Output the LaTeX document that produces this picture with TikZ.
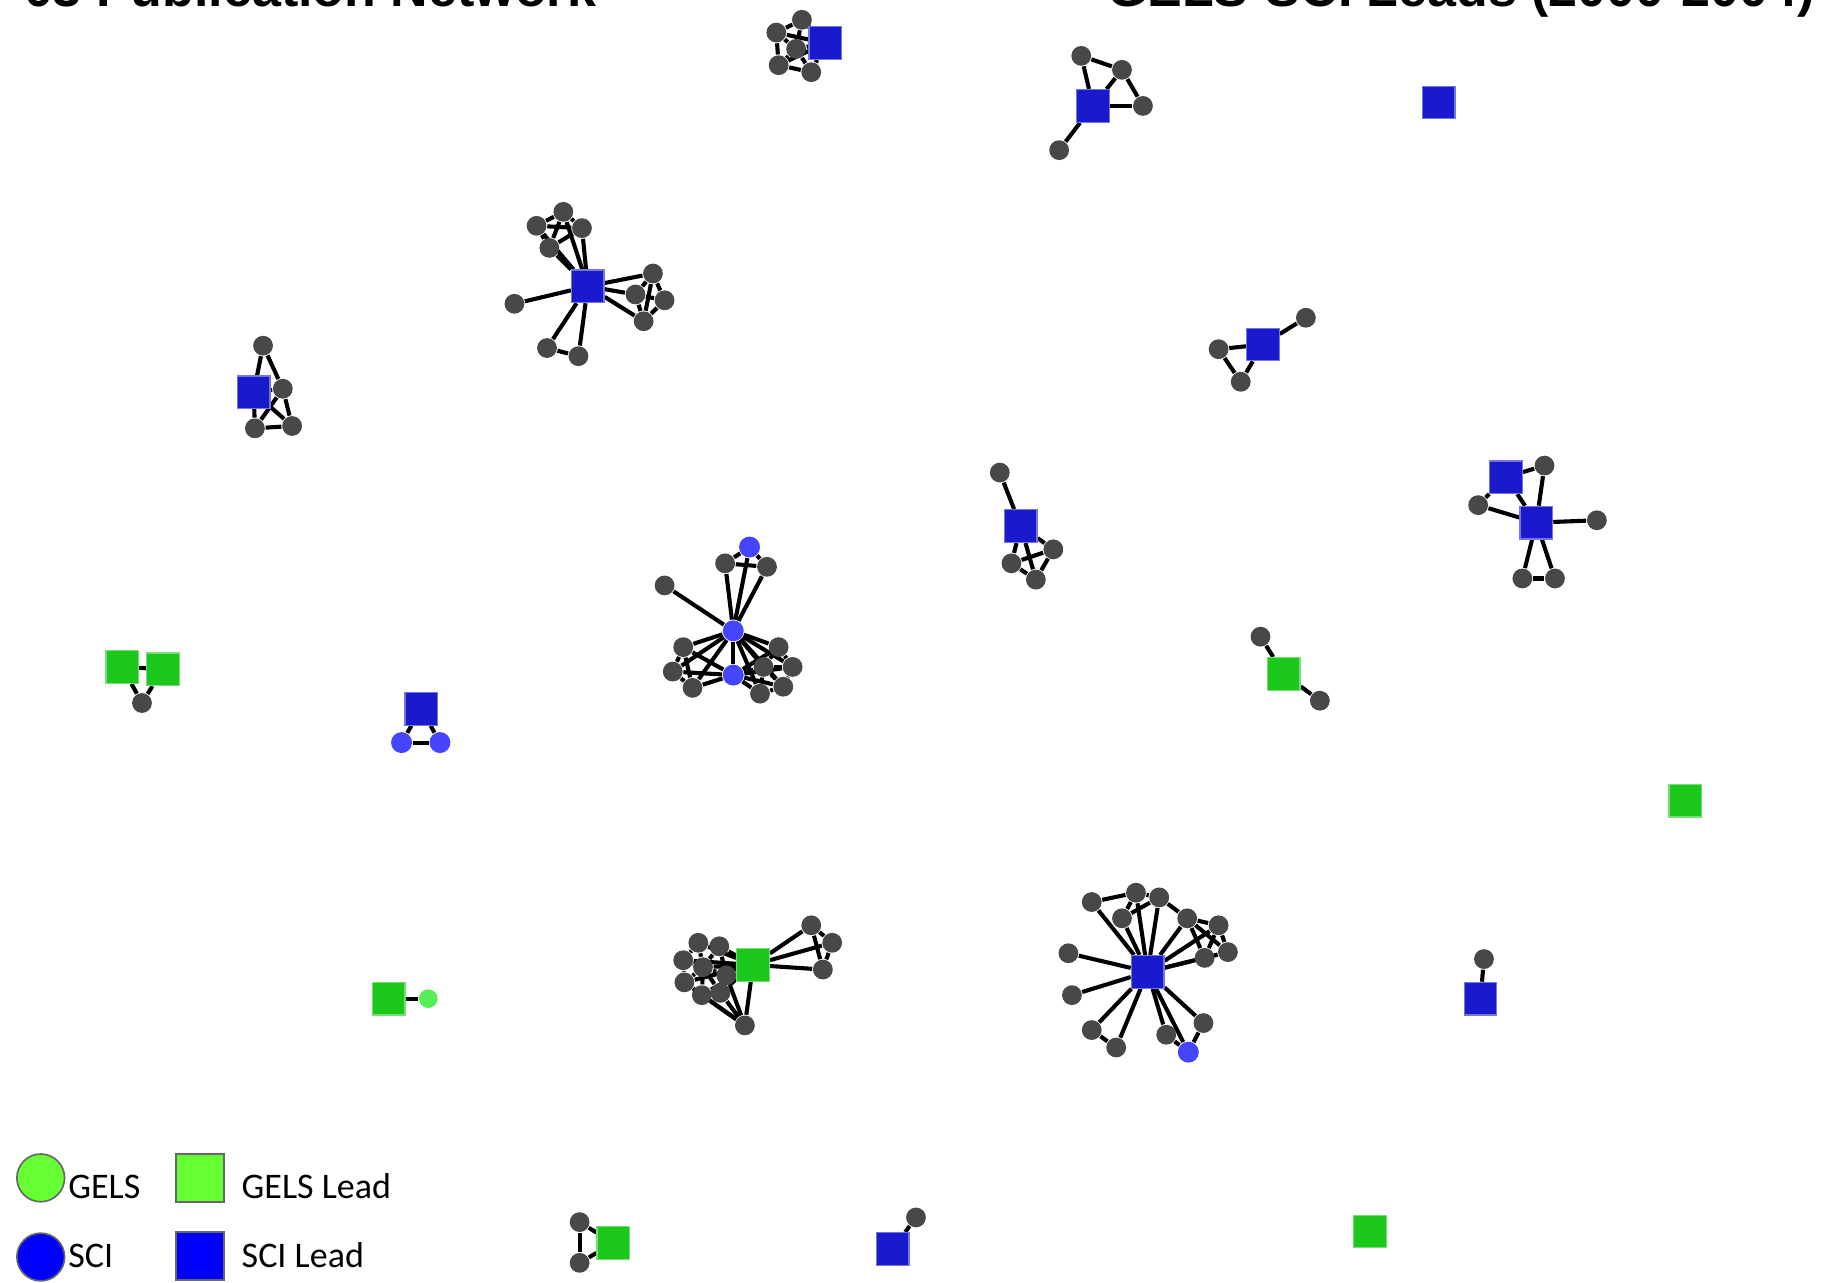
\documentclass[tikz,border=0pt]{standalone}
\usepackage{fontspec}
\usepackage{tikz}
\usetikzlibrary{backgrounds}
\newfontfamily\titlefont{Liberation Sans}
\newfontfamily\legendfont{Carlito}
\definecolor{authorgray}{HTML}{474947}
\definecolor{leadblue}{HTML}{1A1ACD}
\definecolor{sciblue}{HTML}{4545FF}
\definecolor{leadgreen}{HTML}{1DC81D}
\definecolor{gelsgreen}{HTML}{55EE55}
\definecolor{keygreen}{HTML}{66FF33}
\definecolor{keyblue}{HTML}{0000FF}
\tikzstyle{author} = [circle, fill=authorgray, inner sep=0pt, minimum size=0.17cm]
\tikzstyle{sci} = [circle, fill=sciblue, inner sep=0pt, minimum size=0.18cm]
\tikzstyle{gels} = [circle, fill=gelsgreen, inner sep=0pt, minimum size=0.16cm]
\tikzstyle{scilead} = [rectangle, fill=leadblue, draw=leadblue!60!white, line width=0.3pt,
  inner sep=0pt, minimum size=0.28cm]
\tikzstyle{gelslead} = [rectangle, fill=leadgreen, draw=leadgreen!60!white, line width=0.3pt,
  inner sep=0pt, minimum size=0.28cm]
\tikzstyle{tie} = [line width=1pt, black]
\tikzstyle{headline} = [inner sep=0pt, font=\titlefont\bfseries\fontsize{12.7}{14}\selectfont]
\tikzstyle{keybox} = [draw=black!60, line width=0.4pt, inner sep=0pt, minimum size=0.41cm]
\tikzstyle{keytext} = [anchor=base west, inner sep=0pt, font=\legendfont\fontsize{8.8}{10}\selectfont]

\begin{document}
\begin{tikzpicture}[x=0.01cm, y=-0.01cm]
  \useasboundingbox (0,0) rectangle (1568,1102);

  \node[headline, anchor=base west] (lefttitle) at (20,6) {03 Publication Network};
  \node[headline, anchor=base east] (righttitle) at (1560,6) {GELS-SCI Leads (2000-2004)};

  % top cluster
  \node[author] (a1) at (667,28) {};
  \node[author] (a2) at (689,17) {};
  \node[author] (a3) at (684,42) {};
  \node[author] (a4) at (669,56) {};
  \node[author] (a5) at (697,62) {};
  \node[scilead] (a0) at (709,37) {};

  \node[scilead] (b0) at (939,91) {};
  \node[author] (b1) at (929,48) {};
  \node[author] (b2) at (964,60) {};
  \node[author] (b3) at (982,91) {};
  \node[author] (b4) at (910,129) {};

  \node[scilead] (c0) at (1236,88) {};

  \node[scilead] (d0) at (505,246) {};
  \node[author] (d1) at (484,182) {};
  \node[author] (d2) at (461,194) {};
  \node[author] (d3) at (500,196) {};
  \node[author] (d4) at (472,213) {};
  \node[author] (d5) at (442,261) {};
  \node[author] (d6) at (561,235) {};
  \node[author] (d7) at (546,253) {};
  \node[author] (d8) at (571,258) {};
  \node[author] (d9) at (553,276) {};
  \node[author] (d10) at (470,299) {};
  \node[author] (d11) at (497,306) {};

  \node[scilead] (e0) at (218,337) {};
  \node[author] (e1) at (226,297) {};
  \node[author] (e2) at (243,334) {};
  \node[author] (e3) at (219,368) {};
  \node[author] (e4) at (251,366) {};

  \node[scilead] (f0) at (1085,296) {};
  \node[author] (f1) at (1122,273) {};
  \node[author] (f2) at (1047,300) {};
  \node[author] (f3) at (1066,328) {};

  \node[scilead] (g0) at (877,452) {};
  \node[author] (g1) at (859,406) {};
  \node[author] (g2) at (905,472) {};
  \node[author] (g3) at (869,484) {};
  \node[author] (g4) at (890,498) {};

  \node[scilead] (h0) at (1294,410) {};
  \node[scilead] (h1) at (1320,449) {};
  \node[author] (h2) at (1327,400) {};
  \node[author] (h3) at (1270,434) {};
  \node[author] (h4) at (1372,447) {};
  \node[author] (h5) at (1308,497) {};
  \node[author] (h6) at (1336,497) {};

  % middle cluster
  \node[sci] (i0) at (630,542) {};
  \node[sci] (i1) at (644,470) {};
  \node[author] (i2) at (623,484) {};
  \node[author] (i3) at (659,487) {};
  \node[author] (i4) at (571,503) {};
  \node[author] (i5) at (587,556) {};
  \node[author] (i6) at (669,556) {};
  \node[author] (i7) at (578,577) {};
  \node[author] (i8) at (656,573) {};
  \node[author] (i9) at (681,573) {};
  \node[author] (i11) at (595,591) {};
  \node[author] (i12) at (653,596) {};
  \node[author] (i13) at (673,590) {};
  \node[sci] (i10) at (630,580) {};

  \node[gelslead] (j0) at (105,573) {};
  \node[gelslead] (j1) at (140,575) {};
  \node[author] (j2) at (122,604) {};

  \node[scilead] (k0) at (362,609) {};
  \node[sci] (k1) at (345,638) {};
  \node[sci] (k2) at (378,638) {};

  \node[gelslead] (l0) at (1103,579) {};
  \node[author] (l1) at (1083,547) {};
  \node[author] (l2) at (1134,602) {};

  \node[gelslead] (m0) at (1448,688) {};

  % lower clusters
  \node[author] (n1) at (697,795) {};
  \node[author] (n2) at (715,810) {};
  \node[author] (n3) at (707,833) {};
  \node[author] (n4) at (640,881) {};
  \node[author] (n5) at (600,810) {};
  \node[author] (n6) at (618,813) {};
  \node[author] (n7) at (587,825) {};
  \node[author] (n8) at (604,831) {};
  \node[author] (n9) at (624,838) {};
  \node[author] (n10) at (588,844) {};
  \node[author] (n11) at (603,855) {};
  \node[author] (n12) at (619,853) {};
  \node[gelslead] (n0) at (647,829) {};

  \node[author] (o1) at (938,775) {};
  \node[author] (o2) at (976,767) {};
  \node[author] (o3) at (996,771) {};
  \node[author] (o4) at (964,789) {};
  \node[author] (o5) at (1020,789) {};
  \node[author] (o6) at (1047,795) {};
  \node[author] (o7) at (1035,823) {};
  \node[author] (o8) at (1055,818) {};
  \node[author] (o9) at (918,819) {};
  \node[author] (o10) at (921,855) {};
  \node[author] (o11) at (938,885) {};
  \node[author] (o12) at (959,900) {};
  \node[author] (o13) at (1002,889) {};
  \node[author] (o14) at (1034,879) {};
  \node[sci] (o15) at (1021,904) {};
  \node[scilead] (o0) at (986,835) {};

  \node[scilead] (p0) at (1272,858) {};
  \node[author] (p1) at (1275,824) {};

  \node[gelslead] (q0) at (334,858) {};
  \node[gels] (q1) at (368,858) {};

  \node[gelslead] (r0) at (527,1068) {};
  \node[author] (r1) at (498,1050) {};
  \node[author] (r2) at (498,1085) {};

  \node[scilead] (s0) at (767,1073) {};
  \node[author] (s1) at (787,1046) {};

  \node[gelslead] (t0) at (1177,1058) {};

  % co-authorship ties
  \begin{scope}[on background layer]
    \foreach \u/\v in {a0/a1, a0/a2, a0/a3, a0/a4, a0/a5, a1/a2, a1/a3, a2/a3, a3/a4,
        a3/a5, a4/a5, a1/a4,
        b0/b1, b1/b2, b2/b0, b2/b3, b0/b3, b0/b4,
        d0/d1, d0/d2, d0/d3, d0/d4, d1/d2, d1/d3, d1/d4, d2/d3, d2/d4, d3/d4, d0/d5,
        d0/d6, d0/d7, d0/d9, d6/d7, d6/d8, d6/d9, d7/d8, d7/d9, d8/d9, d0/d10, d0/d11,
        d10/d11,
        e1/e0, e1/e2, e0/e2, e0/e3, e0/e4, e2/e3, e2/e4, e3/e4,
        f0/f1, f0/f2, f0/f3, f2/f3,
        g0/g1, g0/g2, g0/g3, g0/g4, g2/g3, g3/g4, g2/g4,
        h0/h2, h2/h1, h0/h3, h3/h1, h0/h1, h1/h4, h1/h5, h1/h6, h5/h6}
      \draw[tie] (\u) -- (\v);
    \foreach \u/\v in {i0/i1, i0/i2, i0/i3, i1/i2, i1/i3, i2/i3, i0/i4, i0/i5, i0/i6,
        i0/i7, i0/i8, i0/i9, i0/i10, i0/i11, i0/i12, i0/i13, i10/i5, i10/i7, i10/i11,
        i5/i7, i5/i11, i7/i11, i10/i6, i10/i8, i10/i9, i10/i12, i10/i13, i6/i8, i6/i9,
        i8/i9, i8/i12, i9/i13, i12/i13, i8/i13,
        j0/j1, j0/j2, j1/j2, k0/k1, k0/k2, k1/k2, l0/l1, l0/l2}
      \draw[tie] (\u) -- (\v);
    \foreach \u/\v in {n0/n1, n0/n2, n0/n3, n1/n2, n2/n3, n1/n3, n0/n4, n0/n5, n0/n6,
        n0/n7, n0/n8, n0/n9, n0/n10, n0/n11, n0/n12, n4/n9, n4/n11, n4/n12, n4/n10,
        n5/n6, n5/n7, n5/n8, n6/n8, n6/n9, n7/n8, n7/n10, n8/n9, n8/n10, n8/n11,
        n8/n12, n9/n12, n10/n11, n11/n12,
        o1/o2, o2/o3, o4/o2, o4/o3, o3/o5, o5/o6, o5/o7, o5/o8, o6/o7, o6/o8, o7/o8,
        o11/o12, o13/o15, o14/o15,
        p0/p1, q0/q1, r1/r2, r0/r1, r0/r2, s0/s1}
      \draw[tie] (\u) -- (\v);
    \foreach \k in {1,...,15}
      \draw[tie] (o0) -- (o\k);
  \end{scope}

  % legend
  \node[keybox, circle, fill=keygreen] (keygels) at (35,1012) {};
  \node[keybox, fill=keygreen] (keygelslead) at (172,1012) {};
  \node[keybox, circle, fill=keyblue] (keysci) at (35,1080) {};
  \node[keybox, fill=keyblue] (keyscilead) at (172,1079) {};
  \node[keytext] (gelstext) at (58,1030) {GELS};
  \node[keytext] (gelsleadtext) at (207,1030) {GELS Lead};
  \node[keytext] (scitext) at (58,1089) {SCI};
  \node[keytext] (scileadtext) at (207,1089) {SCI Lead};
\end{tikzpicture}
\end{document}
